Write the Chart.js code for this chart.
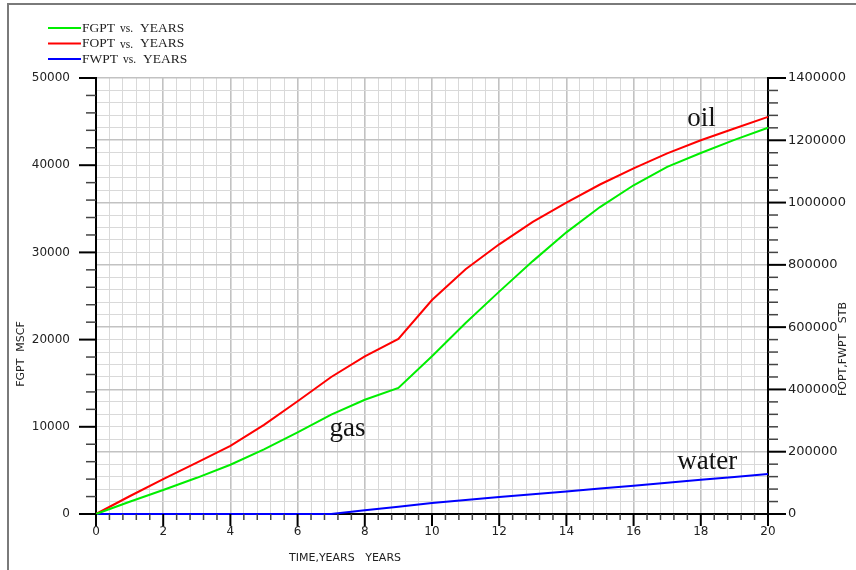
<!DOCTYPE html>
<html>
<head>
<meta charset="utf-8">
<script src="https://cdn.jsdelivr.net/npm/chart.js@4.4.1/dist/chart.umd.min.js"></script>
<style>
body { margin: 0; background: #fff; }
#caixa { position: relative; width: 856px; height: 570px; }
#moldura { position: absolute; left: 7px; top: 3px; right: 0; bottom: 0; border-left: 2px solid #7a7a7a; border-top: 2px solid #7a7a7a; }
canvas { position: absolute; left: 0; top: 0; }
</style>
</head>
<body>
<div id="caixa"><div id="moldura"></div><canvas id="grafico" width="856" height="570"></canvas></div>
<script>
// dados
let anos = [0, 1, 2, 3, 4, 5, 6, 7, 8, 9, 10, 11, 12, 13, 14, 15, 16, 17, 18, 19, 20];
let fgpt = [0, 1400, 2750, 4150, 5650, 7400, 9350, 11400, 13100, 14450, 18100, 21900, 25500, 29000, 32300, 35200, 37700, 39800, 41400, 42900, 44300];
let fopt = [0, 57000, 112000, 165000, 219000, 286000, 362000, 440000, 506000, 562000, 687000, 786000, 866000, 938000, 1000000, 1058000, 1110000, 1158000, 1200000, 1238000, 1275000];
let fwpt = [0, 0, 0, 0, 0, 0, 0, 0, 12000, 23000, 35000, 45000, 54500, 63500, 72500, 81500, 91000, 100500, 110000, 119000, 128500];

let nomes = ["FGPT vs. YEARS", "FOPT vs. YEARS", "FWPT vs. YEARS"];
let cores = ["#00ee00", "#ff0000", "#0000ff"];

let rotulosX = [0, 2, 4, 6, 8, 10, 12, 14, 16, 18, 20];
let rotulosEsq = [0, 10000, 20000, 30000, 40000, 50000];
let rotulosDir = [0, 200000, 400000, 600000, 800000, 1000000, 1200000, 1400000];

// textos escritos dentro do grafico (posicao em anos / valor do eixo esquerdo)
let notas = ["oil", "gas", "water"];
let notasX = [17.6, 6.95, 17.3];
let notasY = [44500, 9000, 5150];

function temRotulo(lista, v){
    return lista.some(r => Math.abs(r - v) < 1e-6);
}

function pontos(serie){
    return anos.map((a, i) => ({x: a, y: serie[i]}));
}

let desenhos = {
    id: 'desenhos',
    afterDraw(chart){
        let ctx = chart.ctx;
        let area = chart.chartArea;
        let sx = chart.scales.x, se = chart.scales.yGas, sd = chart.scales.yOil;
        ctx.save();
        ctx.lineCap = 'butt';

        // tracinhos dos eixos
        se.ticks.forEach(t => {
            let p = se.getPixelForValue(t.value);
            let grande = temRotulo(rotulosEsq, t.value);
            ctx.strokeStyle = grande ? '#000' : '#444';
            ctx.lineWidth = grande ? 2 : 1.5;
            ctx.beginPath(); ctx.moveTo(area.left - (grande ? 17 : 10), p); ctx.lineTo(area.left, p); ctx.stroke();
        });
        sd.ticks.forEach(t => {
            let p = sd.getPixelForValue(t.value);
            let grande = temRotulo(rotulosDir, t.value);
            ctx.strokeStyle = grande ? '#000' : '#444';
            ctx.lineWidth = grande ? 2 : 1.5;
            ctx.beginPath(); ctx.moveTo(area.right, p); ctx.lineTo(area.right + (grande ? 18 : 10), p); ctx.stroke();
        });
        sx.ticks.forEach(t => {
            let p = sx.getPixelForValue(t.value);
            let grande = temRotulo(rotulosX, t.value);
            ctx.strokeStyle = grande ? '#000' : '#444';
            ctx.lineWidth = grande ? 2 : 1.5;
            ctx.beginPath(); ctx.moveTo(p, area.bottom); ctx.lineTo(p, area.bottom + (grande ? 12 : 6)); ctx.stroke();
        });

        // titulos dos eixos
        ctx.fillStyle = '#222';
        ctx.font = '11px "DejaVu Sans"';
        ctx.textAlign = 'center';
        ctx.textBaseline = 'middle';
        ctx.fillText('TIME,YEARS   YEARS', 345, 558);
        ctx.save();
        ctx.translate(21, 354); ctx.rotate(-Math.PI / 2);
        ctx.fillText('FGPT  MSCF', 0, 0);
        ctx.restore();
        ctx.save();
        ctx.translate(843, 349); ctx.rotate(-Math.PI / 2);
        ctx.fillText('FOPT,FWPT   STB', 0, 0);
        ctx.restore();

        // legenda
        ctx.textAlign = 'left';
        chart.data.datasets.forEach((d, i) => {
            let y = 28 + i * 15.5;
            ctx.strokeStyle = d.borderColor;
            ctx.lineWidth = 2;
            ctx.beginPath(); ctx.moveTo(48, y); ctx.lineTo(81, y); ctx.stroke();
            let partes = d.label.split(' vs. ');
            let px = 82;
            ctx.fillStyle = '#222';
            ctx.font = '13.5px "Liberation Serif"';
            ctx.fillText(partes[0], px, y);
            px += ctx.measureText(partes[0]).width + 5;
            ctx.font = '11.5px "Liberation Serif"';
            ctx.fillText('vs.', px, y + 1);
            px += ctx.measureText('vs.').width + 7;
            ctx.font = '13.5px "Liberation Serif"';
            ctx.fillText(partes[1], px, y);
        });

        // notas oil / gas / water
        ctx.font = '27px "Liberation Serif"';
        ctx.fillStyle = '#111';
        ctx.textBaseline = 'alphabetic';
        notas.forEach((n, i) => {
            ctx.fillText(n, sx.getPixelForValue(notasX[i]), se.getPixelForValue(notasY[i]));
        });
        ctx.restore();
    }
};

let fonteNum = {family: 'DejaVu Sans', size: 12};

let ctx = document.getElementById('grafico').getContext('2d');

let myChart = new Chart(ctx, {
    type: 'line',
    data: {
        datasets: [
            {label: nomes[0], data: pontos(fgpt), yAxisID: 'yGas', borderColor: cores[0]},
            {label: nomes[1], data: pontos(fopt), yAxisID: 'yOil', borderColor: cores[1]},
            {label: nomes[2], data: pontos(fwpt), yAxisID: 'yOil', borderColor: cores[2]}
        ]
    },
    options: {
        responsive: false,
        animation: false,
        events: [],
        layout: {padding: {top: 78, left: 0, right: 0, bottom: 0}},
        datasets: {line: {clip: false}},
        elements: {
            line: {borderWidth: 2, tension: 0, fill: false},
            point: {radius: 0}
        },
        plugins: {legend: {display: false}, tooltip: {enabled: false}},
        scales: {
            x: {
                type: 'linear', min: 0, max: 20,
                afterFit(s){ s.height = 56; },
                ticks: {
                    stepSize: 0.4, autoSkip: false, maxRotation: 0, padding: 11,
                    color: '#222', font: fonteNum,
                    callback: v => temRotulo(rotulosX, v) ? String(Math.round(v)) : ''
                },
                grid: {
                    drawTicks: false,
                    color: c => temRotulo(rotulosX, c.tick.value) ? '#c2c2c2' : '#d9d9d9',
                    lineWidth: c => temRotulo(rotulosX, c.tick.value) ? 1.6 : 1
                },
                border: {color: '#000', width: 2}
            },
            yGas: {
                type: 'linear', position: 'left', min: 0, max: 50000,
                afterFit(s){ s.width = 96; },
                ticks: {
                    stepSize: 2000, autoSkip: false, padding: 26,
                    color: '#222', font: fonteNum,
                    callback: v => temRotulo(rotulosEsq, v) ? String(v) : ''
                },
                grid: {display: false, drawTicks: false},
                border: {color: '#000', width: 2}
            },
            yOil: {
                type: 'linear', position: 'right', min: 0, max: 1400000,
                afterFit(s){ s.width = 88; },
                ticks: {
                    stepSize: 40000, autoSkip: false, padding: 20,
                    color: '#222', font: {family: 'DejaVu Sans', size: 13},
                    callback: v => temRotulo(rotulosDir, v) ? String(v) : ''
                },
                grid: {
                    drawTicks: false,
                    color: c => temRotulo(rotulosDir, c.tick.value) ? '#c2c2c2' : '#d9d9d9',
                    lineWidth: c => temRotulo(rotulosDir, c.tick.value) ? 1.6 : 1
                },
                border: {color: '#000', width: 2}
            }
        }
    },
    plugins: [desenhos]
});
</script>
</body>
</html>
